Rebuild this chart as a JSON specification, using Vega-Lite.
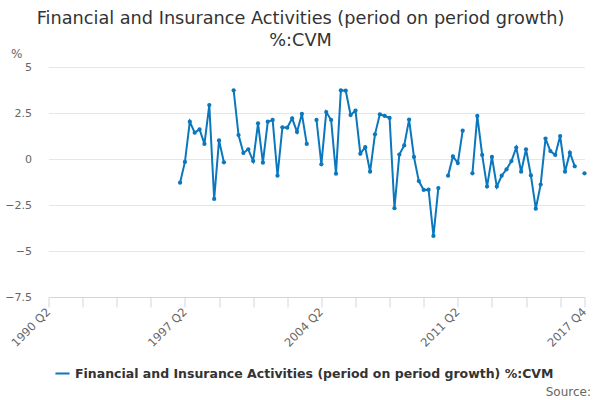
{
  "$schema": "https://vega.github.io/schema/vega-lite/v6.json",
  "width": 536,
  "height": 230,
  "autosize": "none",
  "padding": {"left": 48.5, "top": 67, "right": 15.5, "bottom": 103},
  "config": {
    "font": "DejaVu Sans",
    "view": {"stroke": null}
  },
  "title": {
    "text": ["Financial and Insurance Activities (period on period growth)", "%:CVM"],
    "fontSize": 17.7,
    "fontWeight": "normal",
    "color": "#333333",
    "anchor": "middle",
    "frame": "group",
    "dx": -16,
    "offset": -3,
    "lineHeight": 22
  },
  "data": {
    "values": [
      {"quarter": "1990 Q2", "value": null},
      {"quarter": "1990 Q3", "value": null},
      {"quarter": "1990 Q4", "value": null},
      {"quarter": "1991 Q1", "value": null},
      {"quarter": "1991 Q2", "value": null},
      {"quarter": "1991 Q3", "value": null},
      {"quarter": "1991 Q4", "value": null},
      {"quarter": "1992 Q1", "value": null},
      {"quarter": "1992 Q2", "value": null},
      {"quarter": "1992 Q3", "value": null},
      {"quarter": "1992 Q4", "value": null},
      {"quarter": "1993 Q1", "value": null},
      {"quarter": "1993 Q2", "value": null},
      {"quarter": "1993 Q3", "value": null},
      {"quarter": "1993 Q4", "value": null},
      {"quarter": "1994 Q1", "value": null},
      {"quarter": "1994 Q2", "value": null},
      {"quarter": "1994 Q3", "value": null},
      {"quarter": "1994 Q4", "value": null},
      {"quarter": "1995 Q1", "value": null},
      {"quarter": "1995 Q2", "value": null},
      {"quarter": "1995 Q3", "value": null},
      {"quarter": "1995 Q4", "value": null},
      {"quarter": "1996 Q1", "value": null},
      {"quarter": "1996 Q2", "value": null},
      {"quarter": "1996 Q3", "value": null},
      {"quarter": "1996 Q4", "value": null},
      {"quarter": "1997 Q1", "value": -1.29},
      {"quarter": "1997 Q2", "value": -0.16},
      {"quarter": "1997 Q3", "value": 2.03},
      {"quarter": "1997 Q4", "value": 1.43},
      {"quarter": "1998 Q1", "value": 1.61},
      {"quarter": "1998 Q2", "value": 0.82},
      {"quarter": "1998 Q3", "value": 2.93},
      {"quarter": "1998 Q4", "value": -2.17},
      {"quarter": "1999 Q1", "value": 1.01},
      {"quarter": "1999 Q2", "value": -0.18},
      {"quarter": "1999 Q3", "value": null},
      {"quarter": "1999 Q4", "value": 3.73},
      {"quarter": "2000 Q1", "value": 1.3},
      {"quarter": "2000 Q2", "value": 0.33},
      {"quarter": "2000 Q3", "value": 0.53},
      {"quarter": "2000 Q4", "value": -0.11},
      {"quarter": "2001 Q1", "value": 1.94},
      {"quarter": "2001 Q2", "value": -0.2},
      {"quarter": "2001 Q3", "value": 2.03},
      {"quarter": "2001 Q4", "value": 2.12},
      {"quarter": "2002 Q1", "value": -0.91},
      {"quarter": "2002 Q2", "value": 1.72},
      {"quarter": "2002 Q3", "value": 1.7},
      {"quarter": "2002 Q4", "value": 2.21},
      {"quarter": "2003 Q1", "value": 1.47},
      {"quarter": "2003 Q2", "value": 2.45},
      {"quarter": "2003 Q3", "value": 0.82},
      {"quarter": "2003 Q4", "value": null},
      {"quarter": "2004 Q1", "value": 2.12},
      {"quarter": "2004 Q2", "value": -0.29},
      {"quarter": "2004 Q3", "value": 2.55},
      {"quarter": "2004 Q4", "value": 2.12},
      {"quarter": "2005 Q1", "value": -0.8},
      {"quarter": "2005 Q2", "value": 3.73},
      {"quarter": "2005 Q3", "value": 3.71},
      {"quarter": "2005 Q4", "value": 2.39},
      {"quarter": "2006 Q1", "value": 2.63},
      {"quarter": "2006 Q2", "value": 0.29},
      {"quarter": "2006 Q3", "value": 0.64},
      {"quarter": "2006 Q4", "value": -0.69},
      {"quarter": "2007 Q1", "value": 1.34},
      {"quarter": "2007 Q2", "value": 2.43},
      {"quarter": "2007 Q3", "value": 2.34},
      {"quarter": "2007 Q4", "value": 2.23},
      {"quarter": "2008 Q1", "value": -2.67},
      {"quarter": "2008 Q2", "value": 0.24},
      {"quarter": "2008 Q3", "value": 0.74},
      {"quarter": "2008 Q4", "value": 2.14},
      {"quarter": "2009 Q1", "value": 0.11},
      {"quarter": "2009 Q2", "value": -1.2},
      {"quarter": "2009 Q3", "value": -1.68},
      {"quarter": "2009 Q4", "value": -1.67},
      {"quarter": "2010 Q1", "value": -4.18},
      {"quarter": "2010 Q2", "value": -1.58},
      {"quarter": "2010 Q3", "value": null},
      {"quarter": "2010 Q4", "value": -0.91},
      {"quarter": "2011 Q1", "value": 0.14},
      {"quarter": "2011 Q2", "value": -0.22},
      {"quarter": "2011 Q3", "value": 1.54},
      {"quarter": "2011 Q4", "value": null},
      {"quarter": "2012 Q1", "value": -0.78},
      {"quarter": "2012 Q2", "value": 2.34},
      {"quarter": "2012 Q3", "value": 0.22},
      {"quarter": "2012 Q4", "value": -1.5},
      {"quarter": "2013 Q1", "value": 0.11},
      {"quarter": "2013 Q2", "value": -1.5},
      {"quarter": "2013 Q3", "value": -0.91},
      {"quarter": "2013 Q4", "value": -0.56},
      {"quarter": "2014 Q1", "value": -0.11},
      {"quarter": "2014 Q2", "value": 0.62},
      {"quarter": "2014 Q3", "value": -0.69},
      {"quarter": "2014 Q4", "value": 0.53},
      {"quarter": "2015 Q1", "value": -0.89},
      {"quarter": "2015 Q2", "value": -2.7},
      {"quarter": "2015 Q3", "value": -1.39},
      {"quarter": "2015 Q4", "value": 1.11},
      {"quarter": "2016 Q1", "value": 0.43},
      {"quarter": "2016 Q2", "value": 0.22},
      {"quarter": "2016 Q3", "value": 1.25},
      {"quarter": "2016 Q4", "value": -0.69},
      {"quarter": "2017 Q1", "value": 0.34},
      {"quarter": "2017 Q2", "value": -0.4},
      {"quarter": "2017 Q3", "value": null},
      {"quarter": "2017 Q4", "value": -0.78}
    ]
  },
  "encoding": {
    "x": {
      "field": "quarter",
      "type": "ordinal",
      "sort": null,
      "scale": {"type": "point", "padding": 0},
      "axis": {
        "values": ["1990 Q2", "1992 Q1", "1993 Q4", "1995 Q3", "1997 Q2", "1999 Q1", "2000 Q4", "2002 Q3", "2004 Q2", "2006 Q1", "2007 Q4", "2009 Q3", "2011 Q2", "2013 Q1", "2014 Q4", "2016 Q3", "2017 Q4"],
        "labelExpr": "indexof(['1990 Q2', '1997 Q2', '2004 Q2', '2011 Q2', '2017 Q4'], datum.value) >= 0 ? datum.value : ''",
        "labelAngle": -45,
        "labelAlign": "right",
        "labelBaseline": "middle",
        "labelFontSize": 11.5,
        "labelColor": "#666666",
        "labelPadding": 3,
        "labelOverlap": false,
        "domainColor": "#ccd6eb",
        "tickColor": "#ccd6eb",
        "tickSize": 10,
        "grid": false,
        "title": "Source:",
        "titleFontSize": 12,
        "titleFontWeight": "normal",
        "titleColor": "#666666",
        "titleAnchor": "end",
        "titleAlign": "right",
        "titleBaseline": "middle",
        "titleX": 542,
        "titleY": 94
      }
    },
    "y": {
      "field": "value",
      "type": "quantitative",
      "scale": {"domain": [-7.5, 5], "nice": false, "zero": false},
      "axis": {
        "values": [-7.5, -5, -2.5, 0, 2.5, 5],
        "format": ".2~f",
        "labelFontSize": 11,
        "labelColor": "#666666",
        "labelPadding": 17,
        "ticks": false,
        "domain": false,
        "gridColor": "#e6e6e6",
        "title": "%",
        "titleAngle": 0,
        "titleFontSize": 12,
        "titleFontWeight": "normal",
        "titleColor": "#666666",
        "titleAlign": "left",
        "titleBaseline": "middle",
        "titleX": -38,
        "titleY": -14
      }
    },
    "color": {
      "datum": "Financial and Insurance Activities (period on period growth) %:CVM",
      "type": "nominal",
      "scale": {"range": ["#0b77bd"]},
      "legend": {
        "title": null,
        "orient": "none",
        "legendX": 5.5,
        "legendY": 298,
        "symbolType": "stroke",
        "symbolStrokeWidth": 2,
        "symbolSize": 200,
        "labelFontSize": 12.5,
        "labelFontWeight": "bold",
        "labelColor": "#333333",
        "labelLimit": 600
      }
    }
  },
  "layer": [
    {
      "mark": {"type": "line", "strokeWidth": 2, "invalid": "break-paths-show-domains"}
    },
    {
      "mark": {"type": "point", "filled": true, "opacity": 1, "size": 18, "invalid": "break-paths-show-domains"}
    }
  ]
}
